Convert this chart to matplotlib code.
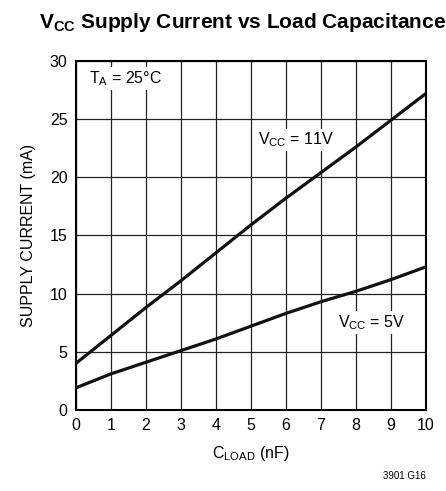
import matplotlib
matplotlib.use("Agg")
import matplotlib.pyplot as plt

plt.rcParams['font.family'] = ['Liberation Sans Narrow', 'Liberation Sans', 'DejaVu Sans']
plt.rcParams['mathtext.default'] = 'regular'

# C_LOAD (nF)
c_load = [0, 1, 2, 3, 4, 5, 6, 7, 8, 9, 10]
# supply current (mA)
i_11v = [4.0, 6.4, 8.8, 11.1, 13.5, 15.9, 18.2, 20.4, 22.6, 24.9, 27.2]
i_5v = [1.9, 3.1, 4.1, 5.1, 6.1, 7.2, 8.3, 9.3, 10.2, 11.2, 12.3]

x_ticks = list(range(0, 11))
y_ticks = [0, 5, 10, 15, 20, 25, 30]

fig = plt.figure(figsize=(4.46, 4.91), dpi=100)
ax = fig.add_axes([0.170, 0.165, 0.785, 0.711])

ax.plot(c_load, i_11v, color='#111111', lw=2.3, zorder=3)
ax.plot(c_load, i_5v, color='#111111', lw=2.3, zorder=3)

ax.set_xlim(0, 10)
ax.set_ylim(0, 30)
ax.set_xticks(x_ticks)
ax.set_yticks(y_ticks)
ax.grid(True, color='#222222', lw=0.9)
ax.tick_params(length=0, labelsize=11.5, pad=6)
for s in ax.spines.values():
    s.set_linewidth(1.5)

box = dict(facecolor='white', edgecolor='none', pad=1.5)
ax.text(0.38, 28.5, r'T$_A$ = 25°C', fontsize=11.5, va='center', ha='left', bbox=box, zorder=4)
ax.text(6.3, 23.2, r'V$_{CC}$ = 11V', fontsize=11.5, va='center', ha='center', bbox=box, zorder=4)
ax.text(8.45, 7.5, r'V$_{CC}$ = 5V', fontsize=11.5, va='center', ha='center', bbox=box, zorder=4)

ax.set_xlabel(r'C$_{LOAD}$ (nF)', fontsize=11.5, labelpad=8)
ax.set_ylabel('SUPPLY CURRENT (mA)', fontsize=11.5, labelpad=10)

fig.text(0.545, 0.955, r'V$_{CC}$ Supply Current vs Load Capacitance', fontsize=15,
         fontweight='bold', ha='center', va='center')
fig.text(0.955, 0.03, '3901 G16', fontsize=7, ha='right', va='center')

fig.savefig('out.png', dpi=100)
